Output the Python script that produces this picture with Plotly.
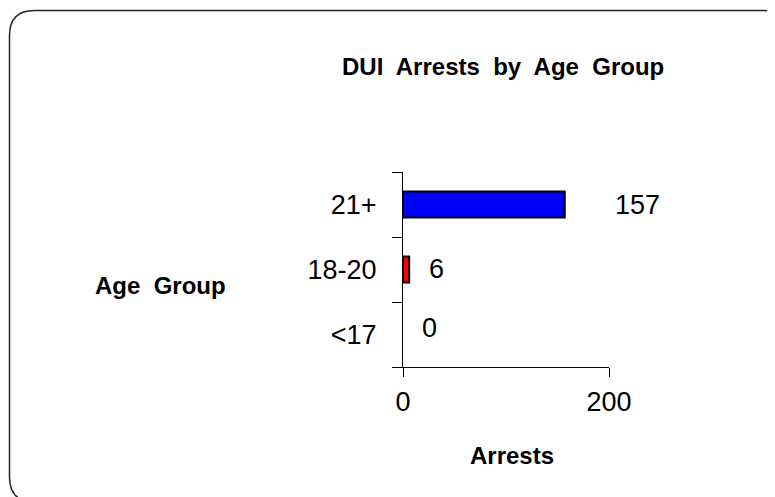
import plotly.graph_objects as go

# ---- data ----
age_groups = ["<17", "18-20", "21+"]
arrests = [0, 6, 157]
bar_colors = ["#FFFF00", "#FF0000", "#0000FF"]
x_tick_values = [0, 200]
x_tick_labels = ["0", "200"]
title_text = "DUI  Arrests  by  Age  Group"
x_title = "Arrests"
y_title = "Age  Group"

# label offsets (px) for value labels
label_xshift = [17, 18, 48]
label_yshift = [7, 1, 0]

OFF = 8  # page body margin
W, H = 775 - OFF, 497 - OFF
L, R, T, B = 403 - OFF, 609 - OFF, 172 - OFF, 367 - OFF   # plot-area pixel box
FONT = "Liberation Sans, Arial, sans-serif"


def px(xp):
    return (xp - OFF - L) / (R - L)


def py(yp):
    return (B - (yp - OFF)) / (B - T)


fig = go.Figure(
    go.Bar(
        x=arrests,
        y=age_groups,
        orientation="h",
        width=0.4,
        marker=dict(
            color=bar_colors,
            line=dict(color="black", width=[0 if v == 0 else 2 for v in arrests]),
        ),
        hoverinfo="x+y",
    )
)

annotations = []
for cat, val, dx, dy in zip(age_groups, arrests, label_xshift, label_yshift):
    annotations.append(dict(
        x=val, y=cat, xref="x", yref="y", text=str(val), showarrow=False,
        xanchor="left", yanchor="middle", xshift=dx, yshift=dy,
        font=dict(family=FONT, size=27, color="black"),
    ))

annotations += [
    dict(x=px(503), y=py(67), xref="paper", yref="paper", text=title_text,
         showarrow=False, xanchor="center", yanchor="middle",
         font=dict(family=FONT, size=24, color="black", weight="bold")),
    dict(x=px(160), y=py(285), xref="paper", yref="paper", text=y_title,
         showarrow=False, xanchor="center", yanchor="middle",
         font=dict(family=FONT, size=24, color="black", weight="bold")),
    dict(x=px(512), y=py(455), xref="paper", yref="paper", text=x_title,
         showarrow=False, xanchor="center", yanchor="middle",
         font=dict(family=FONT, size=24, color="black", weight="bold")),
]

# rounded frame (extends past right/bottom edges of the page)
fx0, fy0, fx1, fy1, rr = 9.5, 10.5, 788, 502, 25
frame_path = (
    f"M {px(fx0 + rr)} {py(fy0)} L {px(fx1 - rr)} {py(fy0)} "
    f"Q {px(fx1)} {py(fy0)} {px(fx1)} {py(fy0 + rr)} "
    f"L {px(fx1)} {py(fy1 - rr)} Q {px(fx1)} {py(fy1)} {px(fx1 - rr)} {py(fy1)} "
    f"L {px(fx0 + rr)} {py(fy1)} Q {px(fx0)} {py(fy1)} {px(fx0)} {py(fy1 - rr)} "
    f"L {px(fx0)} {py(fy0 + rr)} Q {px(fx0)} {py(fy0)} {px(fx0 + rr)} {py(fy0)} Z"
)

fig.update_layout(
    width=W, height=H,
    margin=dict(l=L, r=W - R, t=T, b=H - B, pad=0),
    paper_bgcolor="white", plot_bgcolor="white",
    showlegend=False,
    annotations=annotations,
    shapes=[dict(type="path", path=frame_path, xref="paper", yref="paper",
                 line=dict(color="#222222", width=1.5), layer="below")],
    font=dict(family=FONT, color="black"),
)

fig.update_xaxes(
    range=[0, 200], tickmode="array", tickvals=x_tick_values, ticktext=x_tick_labels,
    showgrid=False, zeroline=False, showline=True, linecolor="black", linewidth=1,
    ticks="outside", ticklen=9, tickcolor="black", tickwidth=1,
    tickfont=dict(family=FONT, size=27, color="black"),
    ticklabelstandoff=2, fixedrange=True,
)
fig.update_yaxes(
    type="category", categoryorder="array", categoryarray=age_groups,
    range=[-0.5, 2.5],
    showgrid=False, zeroline=False, showline=True, linecolor="black", linewidth=1,
    ticks="outside", tickson="boundaries", ticklen=10, tickcolor="black", tickwidth=1,
    tickfont=dict(family=FONT, size=27, color="black"),
    ticklabelstandoff=20, fixedrange=True,
)

fig.write_html("out.html")
